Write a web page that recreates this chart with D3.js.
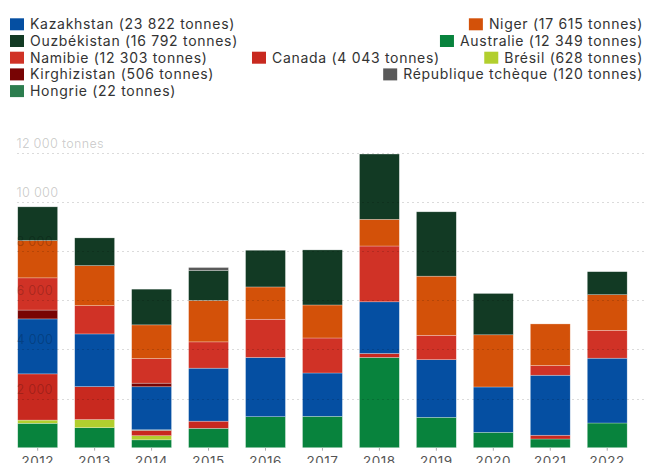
<!DOCTYPE html>
<html>
<head>
<meta charset="utf-8">
<script src="https://cdn.jsdelivr.net/npm/d3@7"></script>
<style>
  body { margin: 0; background: #fff; }
  svg { display: block; font-family: Inter, "Noto Sans", sans-serif; }
</style>
</head>
<body>
<svg id="chart" width="646" height="463"></svg>
<script>
// Importations d'uranium naturel par pays d'origine, en tonnes
const years = [2012, 2013, 2014, 2015, 2016, 2017, 2018, 2019, 2020, 2021, 2022];

const australie    = [993, 814, 320, 789, 1261, 1277, 3672, 1237, 627, 354, 1005];
const bresil       = [130, 330, 168, 0, 0, 0, 0, 0, 0, 0, 0];
const canada       = [1880, 1340, 220, 290, 0, 0, 160, 0, 0, 153, 0];
const hongrie      = [0, 0, 22, 0, 0, 0, 0, 0, 0, 0, 0];
const kazakhstan   = [2236, 2144, 1749, 2156, 2409, 1762, 2103, 2343, 1843, 2441, 2636];
const kirghizistan = [360, 0, 146, 0, 0, 0, 0, 0, 0, 0, 0];
const namibie      = [1310, 1151, 1001, 1070, 1555, 1424, 2270, 993, 0, 394, 1135];
const niger        = [1518, 1628, 1371, 1685, 1314, 1343, 1086, 2405, 2123, 1693, 1449];
const ouzbekistan  = [1371, 1127, 1452, 1220, 1493, 2240, 2655, 2618, 1681, 0, 935];
const tcheque      = [0, 0, 0, 120, 0, 0, 0, 0, 0, 0, 0];

// Stacking order, bottom to top
const countries = ["Australie", "Brésil", "Canada", "Hongrie", "Kazakhstan",
                   "Kirghizistan", "Namibie", "Niger", "Ouzbékistan", "République tchèque"];
const seriesValues = [australie, bresil, canada, hongrie, kazakhstan,
                      kirghizistan, namibie, niger, ouzbekistan, tcheque];
const countryColors = ["#08833d", "#b2cf2e", "#c8291f", "#2c7d4e", "#054fa2",
                       "#780404", "#d03226", "#d35109", "#123a24", "#5a5a5a"];

const yTicks = [2000, 4000, 6000, 8000, 10000, 12000];
const yUnit = "tonnes";

const fr = d3.formatLocale({ decimal: ",", thousands: "\u00a0", grouping: [3], currency: ["", " €"] });
const fmt = fr.format(",d");

const table = years.map((yr, i) => {
  const row = { year: yr };
  countries.forEach((c, k) => { row[c] = seriesValues[k][i]; });
  return row;
});

const color = d3.scaleOrdinal().domain(countries).range(countryColors);

const svg = d3.select("#chart");
const W = 646;

const x = d3.scaleBand().domain(years).range([9.2, 635.7]).paddingInner(0.3).paddingOuter(0.15);
const y = d3.scaleLinear().domain([0, 12000]).range([447.7, 152.7]);

// Bars
const stacked = d3.stack().keys(countries)(table);
svg.append("g")
  .selectAll("g")
  .data(stacked)
  .join("g")
    .attr("fill", d => color(d.key))
  .selectAll("rect")
  .data(d => d.filter(s => s[1] - s[0] > 0))
  .join("rect")
    .attr("x", d => x(d.data.year))
    .attr("width", x.bandwidth())
    .attr("y", d => y(d[1]))
    .attr("height", d => y(d[0]) - y(d[1]))
    .attr("stroke", "#fff")
    .attr("stroke-opacity", 0.45)
    .attr("stroke-width", 0.6);

// Gridlines and value labels, drawn over the bars
const grid = svg.append("g");
grid.selectAll("line")
  .data(yTicks)
  .join("line")
    .attr("x1", 17).attr("x2", W)
    .attr("y1", d => Math.round(y(d)) + 0.5)
    .attr("y2", d => Math.round(y(d)) + 0.5)
    .attr("stroke", "#000")
    .attr("stroke-opacity", 0.14)
    .attr("stroke-dasharray", "2,3");
grid.selectAll("text")
  .data(yTicks)
  .join("text")
    .attr("x", 16.5)
    .attr("y", d => y(d) - 5)
    .attr("font-size", 12.5)
    .attr("letter-spacing", 0.3)
    .attr("fill", "#000")
    .attr("fill-opacity", 0.2)
    .text((d, i) => i === yTicks.length - 1 ? fmt(d) + " " + yUnit : fmt(d));

// Year axis
const xAxis = svg.append("g").attr("transform", `translate(0,${y(0)})`)
  .call(d3.axisBottom(x).tickSize(3).tickPadding(6));
xAxis.select(".domain").remove();
xAxis.selectAll("line").attr("stroke", "#aaa");
xAxis.selectAll("text")
  .attr("font-size", 13.5)
  .attr("letter-spacing", 0.5)
  .attr("fill", "#555")
  .attr("font-family", "Inter, 'Noto Sans', sans-serif");

// Legend: ordered by total, wrapped into justified rows
const totals = countries.map((c, k) => ({ name: c, total: d3.sum(seriesValues[k]) }))
  .sort((a, b) => b.total - a.total);

const legend = svg.append("g");
const items = legend.selectAll("g.item")
  .data(totals)
  .join("g")
    .attr("class", "item");
items.append("rect")
  .attr("width", 14).attr("height", 12)
  .attr("y", -6)
  .attr("fill", d => color(d.name));
items.append("text")
  .attr("x", 20)
  .attr("dy", "0.36em")
  .attr("font-size", 14)
  .attr("letter-spacing", 0.7)
  .attr("fill", "#333")
  .text(d => `${d.name} (${fmt(d.total)} tonnes)`);

const left = 10, right = 643, minGap = 35, rowStart = 24.3, rowStep = 16.7;
const widths = [];
items.each(function () { widths.push(this.getBBox().width); });
const rows = [];
let cur = [];
let used = 0;
widths.forEach((w, i) => {
  const need = used + (cur.length ? minGap : 0) + w;
  if (cur.length && need > right - left) {
    rows.push(cur); cur = [i]; used = w;
  } else {
    cur.push(i); used = need;
  }
});
if (cur.length) rows.push(cur);

const pos = [];
rows.forEach((row, r) => {
  const sumW = d3.sum(row, i => widths[i]);
  const gap = row.length > 1 ? (right - left - sumW) / (row.length - 1) : 0;
  let cx = left;
  row.forEach(i => {
    pos[i] = [cx, rowStart + r * rowStep];
    cx += widths[i] + gap;
  });
});
items.attr("transform", (d, i) => `translate(${pos[i][0]},${pos[i][1]})`);
</script>
</body>
</html>
